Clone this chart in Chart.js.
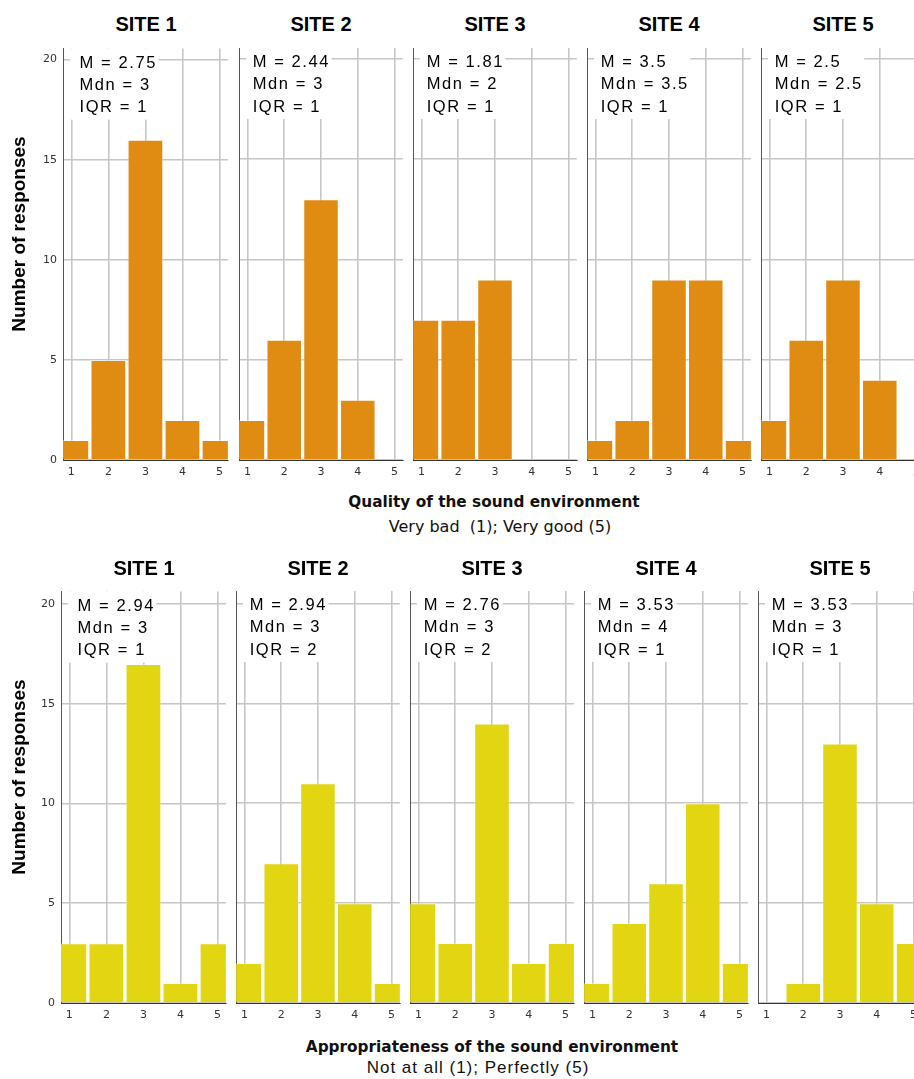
<!DOCTYPE html>
<html>
<head>
<meta charset="utf-8">
<script src="https://cdn.jsdelivr.net/npm/chart.js@4.4.1/dist/chart.umd.min.js"></script>
<style>
  html, body { margin: 0; padding: 0; background: #fff; overflow: hidden; }
  #wrap { position: relative; width: 914px; height: 1079px; overflow: hidden; }
  #wrap canvas, #wrap .lbl { position: absolute; }
  .site { font: bold 20px "Liberation Sans", Arial, sans-serif; color: #000; text-align: center; width: 166px; line-height: 24px; }
  .ytitle { font: bold 19px "Liberation Sans", Arial, sans-serif; color: #000; width: 300px; text-align: center; line-height: 22px; transform: rotate(-90deg); }
  .xtitle { font: bold 15.3px "DejaVu Sans", sans-serif; color: #111; width: 500px; text-align: center; line-height: 20px; white-space: pre; }
  .xsub1 { font: 16px "DejaVu Sans", sans-serif; color: #111; width: 500px; text-align: center; line-height: 20px; white-space: pre; }
  .xsub2 { font: 17px "Liberation Sans", Arial, sans-serif; letter-spacing: 1px; color: #111; width: 500px; text-align: center; line-height: 20px; white-space: pre; }
</style>
</head>
<body>
<div id="wrap"></div>
<script>
// response scale and axis ticks
const scores = [1, 2, 3, 4, 5];
const yTicks = [0, 5, 10, 15, 20];
const siteNames = ['SITE 1', 'SITE 2', 'SITE 3', 'SITE 4', 'SITE 5'];

// quality of the sound environment, counts per score
const qualitySite1 = [1, 5, 16, 2, 1];
const qualitySite2 = [2, 6, 13, 3, 0];
const qualitySite3 = [7, 7, 9, 0, 0];
const qualitySite4 = [1, 2, 9, 9, 1];
const qualitySite5 = [2, 6, 9, 4, 0];
const qualityMean = ['2.75', '2.44', '1.81', '3.5', '2.5'];
const qualityMedian = ['3', '3', '2', '3.5', '2.5'];
const qualityIQR = ['1', '1', '1', '1', '1'];

// appropriateness of the sound environment, counts per score
const appropSite1 = [3, 3, 17, 1, 3];
const appropSite2 = [2, 7, 11, 5, 1];
const appropSite3 = [5, 3, 14, 2, 3];
const appropSite4 = [1, 4, 6, 10, 2];
const appropSite5 = [0, 1, 13, 5, 3];
const appropMean = ['2.94', '2.94', '2.76', '3.53', '3.53'];
const appropMedian = ['3', '3', '3', '4', '3'];
const appropIQR = ['1', '2', '2', '1', '1'];

const QUALITY_COLOR = '#e08b12';
const APPROP_COLOR = '#e2d512';
const GRID = '#c6c6c6';
const PLOT_W = 166, PLOT_H = 412, PAD_TOP = 12, X_H = 24;
const LETTER_SP = 1.6;

const wrap = document.getElementById('wrap');

function drawSpaced(ctx, text, x, y) {
  for (const ch of text) {
    ctx.fillText(ch, x, y);
    x += ctx.measureText(ch).width + LETTER_SP;
  }
  return x;
}
function spacedWidth(ctx, text) {
  let w = 0;
  for (const ch of text) w += ctx.measureText(ch).width + LETTER_SP;
  return w - LETTER_SP;
}

// white box with M / Mdn / IQR in the top left of each panel
const statBox = {
  id: 'statBox',
  beforeDatasetsDraw(chart, args, opts) {
    const ctx = chart.ctx, area = chart.chartArea;
    ctx.save();
    ctx.font = '16.5px "Liberation Sans", Arial, sans-serif';
    ctx.textBaseline = 'alphabetic';
    const tx = area.left + opts.textOffset;
    let maxW = 0;
    opts.lines.forEach(l => { maxW = Math.max(maxW, spacedWidth(ctx, l)); });
    const bx = chart.scales.x.getPixelForValue(scores[0]) - 1.5;
    ctx.fillStyle = '#fff';
    ctx.fillRect(bx, area.top, tx + maxW + 3 - bx, 71);
    ctx.fillStyle = '#000';
    opts.lines.forEach((l, k) => drawSpaced(ctx, l, tx, area.top + 19 + k * 22.3));
    ctx.restore();
  }
};

function addLabel(cls, text, left, top) {
  const d = document.createElement('div');
  d.className = 'lbl ' + cls;
  d.textContent = text;
  d.style.left = left + 'px';
  d.style.top = top + 'px';
  wrap.appendChild(d);
  return d;
}

function makePanel(row, i, counts) {
  const first = i === 0;
  const yW = first ? 42 : 0;
  const left = Math.round(row.left0 + i * row.step);
  const canvas = document.createElement('canvas');
  canvas.width = yW + PLOT_W;
  canvas.height = PAD_TOP + PLOT_H + X_H;
  canvas.style.left = (left - yW) + 'px';
  canvas.style.top = (row.top - PAD_TOP) + 'px';
  wrap.appendChild(canvas);

  addLabel('site', siteNames[i], left, row.titleY - 12);

  new Chart(canvas, {
    type: 'bar',
    data: {
      datasets: [{
        data: counts.map((v, k) => ({ x: scores[k], y: v })),
        backgroundColor: row.color,
        borderColor: 'rgba(255,255,255,0.4)',
        borderWidth: 1,
        barPercentage: 0.965,
        categoryPercentage: 1,
        clip: 0
      }]
    },
    options: {
      responsive: false,
      animation: false,
      layout: { padding: { top: PAD_TOP, left: 0, right: 0, bottom: 0 } },
      plugins: {
        legend: { display: false },
        tooltip: { enabled: false },
        statBox: {
          textOffset: first ? 16.5 : 13.5,
          lines: ['M = ' + row.mean[i], 'Mdn = ' + row.median[i], 'IQR = ' + row.iqr[i]]
        }
      },
      scales: {
        x: {
          type: 'linear',
          min: 0.774, max: 5.226,
          offset: false,
          afterBuildTicks: s => { s.ticks = scores.map(v => ({ value: v })); },
          afterFit: s => { s.height = X_H; },
          grid: { color: GRID, lineWidth: 1.6, drawTicks: false, offset: false },
          border: { color: '#333', width: 1 },
          ticks: {
            padding: 6, color: '#333', maxRotation: 0, autoSkip: false,
            font: { family: 'DejaVu Sans', size: 11 }
          }
        },
        y: {
          min: 0, max: row.yMax,
          afterBuildTicks: s => { s.ticks = yTicks.map(v => ({ value: v })); },
          afterFit: s => { s.width = yW; },
          grid: { color: GRID, lineWidth: 1.6, drawTicks: false },
          border: { color: '#555', width: 1 },
          ticks: {
            display: first, padding: 6, color: '#333',
            font: { family: 'DejaVu Sans', size: 11 }
          }
        }
      }
    },
    plugins: [statBox]
  });
}

const topRow = {
  left0: 63.3, step: 174.2, top: 48, yMax: 20.55, titleY: 24, color: QUALITY_COLOR,
  mean: qualityMean, median: qualityMedian, iqr: qualityIQR
};
const bottomRow = {
  left0: 61, step: 174.1, top: 591, yMax: 20.63, titleY: 567.5, color: APPROP_COLOR,
  mean: appropMean, median: appropMedian, iqr: appropIQR
};

[qualitySite1, qualitySite2, qualitySite3, qualitySite4, qualitySite5]
  .forEach((c, i) => makePanel(topRow, i, c));
[appropSite1, appropSite2, appropSite3, appropSite4, appropSite5]
  .forEach((c, i) => makePanel(bottomRow, i, c));

// axis titles
addLabel('ytitle', 'Number of responses', 19 - 150, 233.5 - 11);
addLabel('ytitle', 'Number of responses', 19 - 150, 777 - 11);
addLabel('xtitle', 'Quality of the sound environment', 494 - 250, 502 - 10);
addLabel('xsub1', 'Very bad  (1); Very good (5)', 500 - 250, 526.5 - 10);
addLabel('xtitle', 'Appropriateness of the sound environment', 492 - 250, 1046.5 - 10);
addLabel('xsub2', 'Not at all (1); Perfectly (5)', 478 - 250, 1068 - 10);
</script>
</body>
</html>
